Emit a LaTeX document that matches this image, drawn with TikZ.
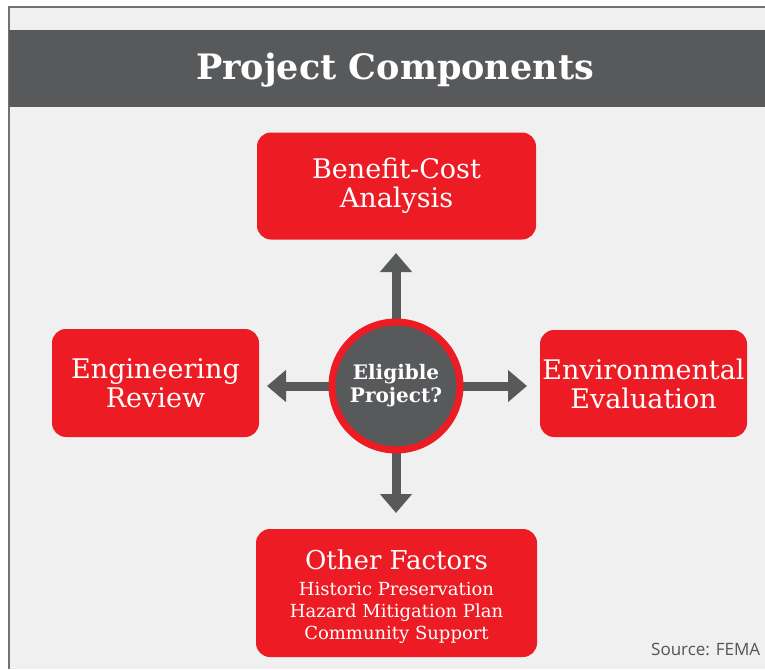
\documentclass[tikz,border=0pt]{standalone}
\usepackage{fontspec}
\setmainfont{DejaVu Serif}
\newfontfamily\srcfont{Open Sans}
\usetikzlibrary{arrows.meta,backgrounds}
\definecolor{femared}{HTML}{ED1C24}
\definecolor{femagray}{HTML}{58595B}
\definecolor{panel}{HTML}{F0F0F0}
\definecolor{srcgray}{HTML}{555555}
\newcommand{\subsz}{\fontsize{18}{22}\selectfont}
\begin{document}
\begin{tikzpicture}[x=1pt,y=-1pt,
  box/.style={fill=femared, rounded corners=14pt, text=white, align=center,
    font=\fontsize{27}{29}\selectfont, inner sep=0pt},
  arr/.style={femagray, line width=9pt, -{Triangle[width=31pt,length=19pt]}}]
\useasboundingbox (0,0) rectangle (765,669);
\begin{scope}[on background layer]
\fill[white] (0,0) rectangle (765,669);
\fill[panel] (9,7) rectangle (765,669);
\draw[femagray!85, line width=2pt] (9,669) -- (9,7) -- (765,7);
\fill[femagray] (9,30) rectangle (765,107);
\end{scope}
\node[text=white, font=\bfseries\fontsize{35}{38}\selectfont] (title) at (395,70) {Project Components};
\node[box, minimum width=279pt, minimum height=107pt] (bca) at (396.5,186) {Benefit-Cost\\Analysis};
\node[box, minimum width=207pt, minimum height=108pt] (eng) at (155.5,383) {Engineering\\Review};
\node[box, minimum width=207pt, minimum height=107pt] (env) at (643.5,383.5) {Environmental\\Evaluation};
\node[box, minimum width=281pt, minimum height=128pt] (oth) at (396.5,593) {};
\node[text=white, align=center, inner sep=0pt, font=\fontsize{26}{29}\selectfont] (othtxt) at (396.5,597)
  {Other Factors\\[-3pt]\subsz Historic Preservation\\[-7pt]\subsz Hazard Mitigation Plan\\[-7pt]\subsz Community Support};
\node[circle, fill=femagray, draw=femared, line width=7pt, minimum size=128pt, inner sep=0pt,
  text=white, align=center, font=\bfseries\fontsize{20}{26}\selectfont] (c) at (396,386) {Eligible\\[-3pt]Project?};
\coordinate (tu) at (396,253);
\coordinate (td) at (396,513);
\coordinate (tl) at (267,386);
\coordinate (tr) at (527,386);
\begin{scope}[on background layer]
\draw[arr] (c.center) -- (tu);
\draw[arr] (c.center) -- (td);
\draw[arr] (c.center) -- (tl);
\draw[arr] (c.center) -- (tr);
\end{scope}
\node[anchor=base west, text=srcgray, font=\srcfont\fontsize{17}{20}\selectfont, inner sep=0pt] (src) at (651,655) {Source: FEMA};
\end{tikzpicture}
\end{document}
